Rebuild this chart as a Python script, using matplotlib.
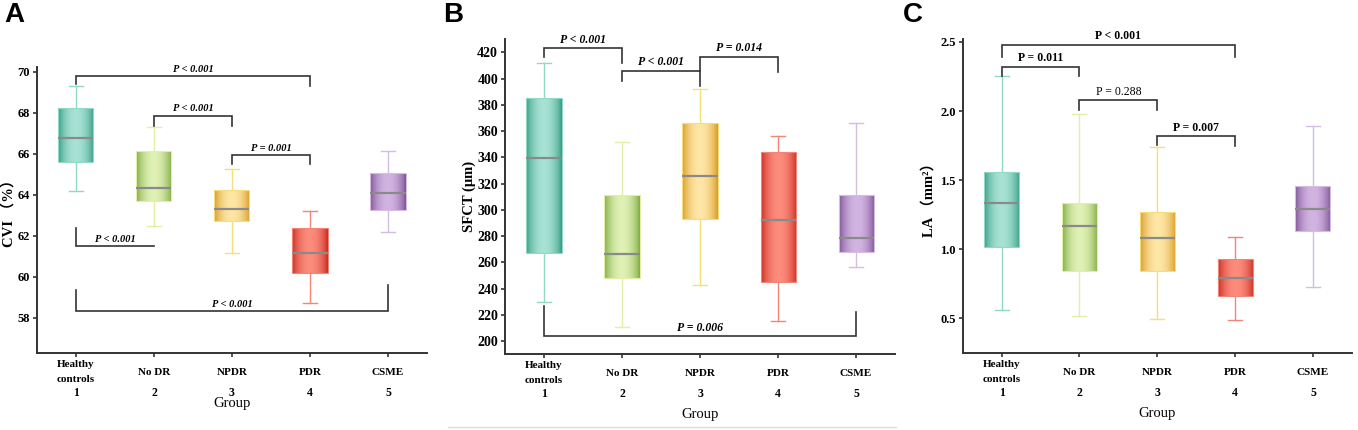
import numpy as np
import matplotlib
matplotlib.use("Agg")
import matplotlib.pyplot as plt
from matplotlib.colors import to_rgb
from matplotlib.lines import Line2D

# -------------------------------
# Data (five-number summaries)
# -------------------------------
groups = ["Healthy\ncontrols", "No DR", "NPDR", "PDR", "CSME"]
group_nums = ["1", "2", "3", "4", "5"]

cvi_low = [64.18, 62.50, 61.19, 58.73, 62.21]
cvi_q1 = [65.63, 63.69, 62.75, 60.20, 63.25]
cvi_med = [66.80, 64.36, 63.32, 61.15, 64.11]
cvi_q3 = [68.26, 66.15, 64.23, 62.37, 65.07]
cvi_high = [69.33, 67.32, 65.28, 63.20, 66.16]

sfct_low = [229.4, 210.6, 242.6, 215.4, 256.6]
sfct_q1 = [267.3, 247.7, 292.9, 244.7, 267.5]
sfct_med = [339.2, 266.3, 326.0, 292.4, 278.7]
sfct_q3 = [385.4, 311.2, 365.9, 344.3, 311.5]
sfct_high = [411.6, 351.4, 391.8, 356.5, 366.4]

la_low = [0.558, 0.517, 0.495, 0.486, 0.729]
la_q1 = [1.018, 0.842, 0.842, 0.659, 1.134]
la_med = [1.336, 1.170, 1.078, 0.789, 1.288]
la_q3 = [1.558, 1.336, 1.266, 0.929, 1.457]
la_high = [2.252, 1.980, 1.739, 1.088, 1.890]

# significance brackets: (group a, group b, bar y, leg end a, leg end b, label, style)
cvi_pairs = [
    (1, 4, 69.80, 69.43, 69.30, "P < 0.001", "bi"),
    (2, 3, 67.87, 67.35, 67.35, "P < 0.001", "bi"),
    (3, 4, 65.93, 65.50, 65.50, "P = 0.001", "bi"),
    (1, 2, 61.51, 62.39, 61.51, "P < 0.001", "bi"),
    (1, 5, 58.34, 59.38, 59.63, "P < 0.001", "bi"),
]
sfct_pairs = [
    (1, 2, 423.0, 416.7, 411.6, "P < 0.001", "bi"),
    (2, 3, 405.8, 398.1, 394.3, "P < 0.001", "bi"),
    (3, 4, 416.7, 405.8, 405.3, "P = 0.014", "bi"),
    (1, 5, 203.7, 226.6, 222.3, "P = 0.006", "bi"),
]
la_pairs = [
    (1, 4, 2.480, 2.390, 2.390, "P < 0.001", "b"),
    (1, 2, 2.320, 2.250, 2.250, "P = 0.011", "b"),
    (2, 3, 2.078, 2.006, 2.006, "P = 0.288", "n"),
    (3, 4, 1.818, 1.753, 1.746, "P = 0.007", "b"),
]

# box colours: edge dark, centre light, whisker
dark_cols = ["#2f9a80", "#79a83c", "#d8961c", "#c8281c", "#7a4c92"]
light_cols = ["#a8e2d4", "#dff1b4", "#fee6a6", "#fc8c7c", "#d2b4e2"]
whisk_cols = ["#8fd9c5", "#e4eea6", "#f6de7a", "#f2857a", "#d4bde2"]

SERIF = ["Liberation Serif", "Noto Sans CJK SC", "DejaVu Serif"]
plt.rcParams["font.family"] = SERIF


def draw_panel(ax, low, q1, med, q3, high, pairs, ylim, yticks, ylabel, fmt,
               tick_fs, ptext_fs, label_x):
    pos = np.arange(1, 6)
    stats = []
    for i in range(5):
        stats.append(dict(whislo=low[i], q1=q1[i], med=med[i], q3=q3[i],
                          whishi=high[i], fliers=[]))
    bp = ax.bxp(stats, positions=pos, widths=0.45, capwidths=0.18,
                patch_artist=True, showfliers=False,
                medianprops=dict(color="#8a8a8a", lw=1.6, zorder=4),
                boxprops=dict(lw=0.8, zorder=3),
                whiskerprops=dict(lw=1.0), capprops=dict(lw=1.0))
    t = np.linspace(0, 1, 64)
    mix = np.sin(np.pi * t) ** 0.7
    for i, box in enumerate(bp["boxes"]):
        d = np.array(to_rgb(dark_cols[i]))
        l = np.array(to_rgb(light_cols[i]))
        img = (d[None, :] + (l - d)[None, :] * mix[:, None])[None, :, :]
        box.set_facecolor("none")
        box.set_edgecolor(whisk_cols[i])
        im = ax.imshow(img, extent=[pos[i] - 0.225, pos[i] + 0.225, q1[i], q3[i]],
                       aspect="auto", interpolation="bilinear", zorder=2)
        im.set_clip_path(box)
        for ln in bp["whiskers"][2 * i:2 * i + 2] + bp["caps"][2 * i:2 * i + 2]:
            ln.set_color(whisk_cols[i])

    span = ylim[1] - ylim[0]
    for a, b, ybar, ya, yb, label, style in pairs:
        ax.plot([a, a, b, b], [ya, ybar, ybar, yb], color="#333333", lw=1.2,
                zorder=5, solid_joinstyle="miter")
        kw = dict(fontsize=ptext_fs, ha="center", va="bottom", zorder=6)
        if style == "bi":
            kw.update(fontweight="bold", fontstyle="italic")
        elif style == "b":
            kw.update(fontweight="bold")
        ax.text((a + b) / 2, ybar + span * 0.008, label, **kw)

    ax.set_xlim(0.5, 5.5)
    ax.set_ylim(*ylim)
    ax.set_yticks(yticks)
    ax.set_yticklabels([fmt.format(v) for v in yticks], fontsize=tick_fs,
                       fontweight="bold")
    ax.set_xticks(pos)
    ax.set_xticklabels([])
    for s in ["top", "right"]:
        ax.spines[s].set_visible(False)
    for s in ["left", "bottom"]:
        ax.spines[s].set_linewidth(1.4)
        ax.spines[s].set_color("#333333")
    ax.tick_params(axis="both", length=3, width=1.2, color="#333333", pad=2)
    ax.set_ylabel(ylabel, fontsize=10.5, fontweight="bold")
    ax.yaxis.set_label_coords(label_x, 0.5)

    for i in range(5):
        ax.annotate(groups[i], xy=(pos[i], 0), xycoords=("data", "axes fraction"),
                    xytext=(0, -19), textcoords="offset pixels", ha="center",
                    va="center", fontsize=8, fontweight="bold", linespacing=1.75)
        ax.annotate(group_nums[i], xy=(pos[i], 0), xycoords=("data", "axes fraction"),
                    xytext=(0, -40), textcoords="offset pixels", ha="center",
                    va="center", fontsize=8.5, fontweight="bold")


fig = plt.figure(figsize=(13.58, 4.30), dpi=100)
ax_a = fig.add_axes([0.0272, 0.179, 0.2872, 0.665])
ax_b = fig.add_axes([0.3719, 0.1767, 0.2872, 0.7326])
ax_c = fig.add_axes([0.7089, 0.179, 0.2866, 0.730])

draw_panel(ax_a, cvi_low, cvi_q1, cvi_med, cvi_q3, cvi_high, cvi_pairs,
           (56.29, 70.24), [58, 60, 62, 64, 66, 68, 70], "CVI （%）", "{:.0f}",
           9, 7.5, -0.054)
draw_panel(ax_b, sfct_low, sfct_q1, sfct_med, sfct_q3, sfct_high, sfct_pairs,
           (190.1, 430.1), list(range(200, 421, 20)), "SFCT (μm)", "{:.0f}",
           10, 8.5, -0.074)
draw_panel(ax_c, la_low, la_q1, la_med, la_q3, la_high, la_pairs,
           (0.249, 2.52), [0.5, 1.0, 1.5, 2.0, 2.5], "LA （mm²）", "{:.1f}",
           9, 8.5, -0.069)

ax_a.annotate("Group", xy=(0.5, 0), xycoords="axes fraction", xytext=(0, -50),
              textcoords="offset pixels", ha="center", va="center", fontsize=10.5)
for ax in (ax_b, ax_c):
    ax.annotate("Group", xy=(0.5, 0), xycoords="axes fraction", xytext=(0, -60),
                textcoords="offset pixels", ha="center", va="center", fontsize=10.5)

# panel letters
for x, letter in [(0.003, "A"), (0.326, "B"), (0.665, "C")]:
    fig.text(x, 0.995, letter, fontsize=20, fontweight="bold", va="top",
             family="Liberation Sans")

fig.add_artist(Line2D([0.33, 0.66], [0.007, 0.007], color="#dddddd", lw=1))

fig.savefig("out.png", dpi=100)
